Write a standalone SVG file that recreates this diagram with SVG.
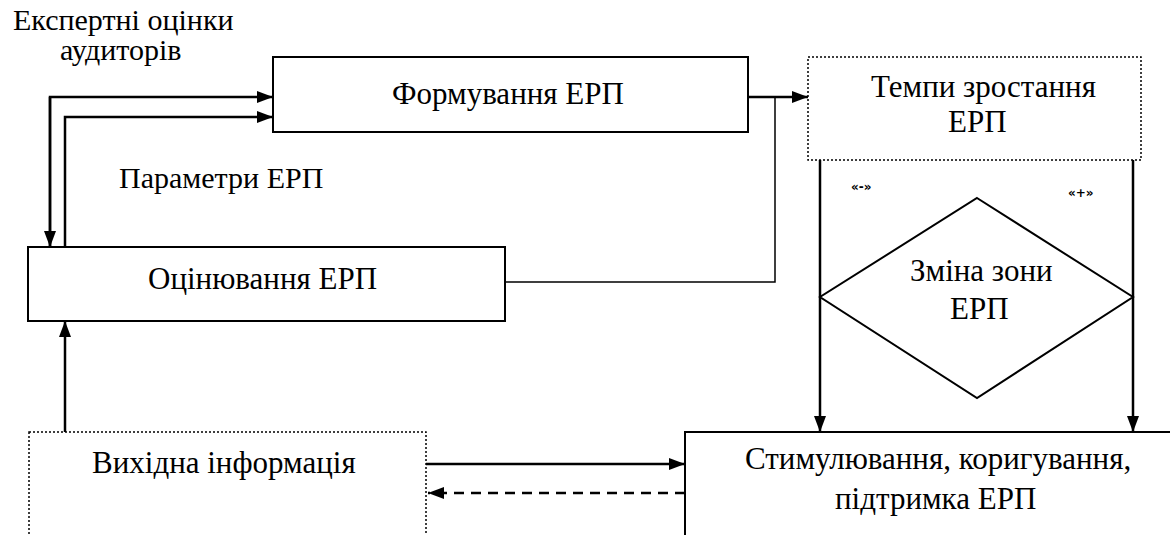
<svg xmlns="http://www.w3.org/2000/svg" width="1170" height="535" viewBox="0 0 1170 535">
<defs>
<marker id="ah" viewBox="0 0 16 12" refX="16" refY="6" markerWidth="16" markerHeight="12" markerUnits="userSpaceOnUse" orient="auto">
<path d="M0,0 L16,6 L0,12 Z" fill="#000"/>
</marker>
</defs>
<rect x="0" y="0" width="1170" height="535" fill="#fff"/>
<g id="connectors" fill="none" stroke="#000" stroke-width="2.5">
<path d="M50,247 L50,97 L273,97" marker-end="url(#ah)"/>
<path d="M50,97 L50,247" marker-end="url(#ah)"/>
<path d="M65,247 L65,117 L273,117" marker-end="url(#ah)"/>
<path d="M748,97 L808,97" marker-end="url(#ah)"/>
<path d="M505,282 L775,282 L775,97" stroke-width="1.5"/>
<path d="M65,432 L65,321" marker-end="url(#ah)"/>
<path d="M820,160 L820,432" marker-end="url(#ah)"/>
<path d="M1133,160 L1133,432" marker-end="url(#ah)"/>
<path d="M426,464 L685,464" marker-end="url(#ah)"/>
<path d="M685,493 L428,493" stroke-dasharray="10 7" marker-end="url(#ah)"/>
</g>
<g id="label-expert">
<text font-family="Liberation Serif" font-size="30" x="13" y="30">Експертні оцінки</text>
<text font-family="Liberation Serif" font-size="30" x="60" y="60">аудиторів</text>
</g>
<g id="label-params">
<text font-family="Liberation Serif" font-size="30" x="119" y="188">Параметри ЕРП</text>
</g>
<g id="node-formuvannia">
<rect x="273" y="57" width="475" height="75" fill="#fff" stroke="#000" stroke-width="2"/>
<text font-family="Liberation Serif" font-size="31" x="392" y="104">Формування ЕРП</text>
</g>
<g id="node-otsiniuvannia">
<rect x="28" y="247" width="477" height="74" fill="#fff" stroke="#000" stroke-width="2"/>
<text font-family="Liberation Serif" font-size="31" x="148" y="289">Оцінювання ЕРП</text>
</g>
<g id="node-tempy">
<rect x="808" y="57" width="333" height="103" fill="#fff" stroke="#000" stroke-width="1.5" stroke-dasharray="2 2"/>
<text font-family="Liberation Serif" font-size="31" x="871" y="97">Темпи зростання</text>
<text font-family="Liberation Serif" font-size="31" x="948" y="132">ЕРП</text>
</g>
<g id="node-zmina">
<polygon points="977,198 1133,297 977,398 820,297" fill="#fff" stroke="#000" stroke-width="2"/>
<text font-family="Liberation Serif" font-size="31" x="910" y="281">Зміна зони</text>
<text font-family="Liberation Serif" font-size="31" x="950" y="319">ЕРП</text>
</g>
<g id="labels-signs">
<text font-family="DejaVu Sans" font-size="12" font-weight="bold" x="851" y="191">«-»</text>
<text font-family="DejaVu Sans" font-size="12" font-weight="bold" x="1068" y="197">«+»</text>
</g>
<g id="node-vykhidna">
<rect x="29" y="432" width="397" height="110" fill="#fff" stroke="#000" stroke-width="1.5" stroke-dasharray="2 2"/>
<text font-family="Liberation Serif" font-size="31" x="92" y="473">Вихідна інформація</text>
</g>
<g id="node-stymuliuvannia">
<rect x="685" y="432" width="500" height="120" fill="#fff" stroke="#000" stroke-width="2"/>
<text font-family="Liberation Serif" font-size="31" x="745" y="469">Стимулювання, коригування,</text>
<text font-family="Liberation Serif" font-size="31" x="835" y="509">підтримка ЕРП</text>
</g>
</svg>
